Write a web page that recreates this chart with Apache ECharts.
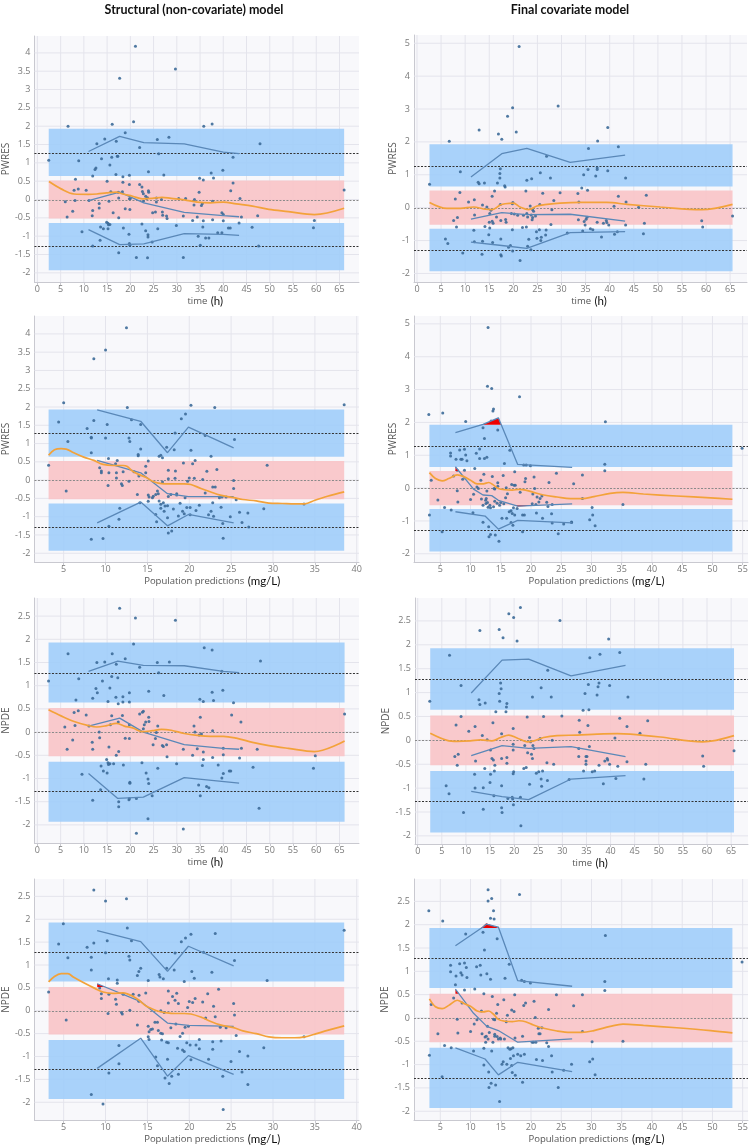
<!DOCTYPE html>
<html><head><meta charset="utf-8">
<script src="https://cdn.jsdelivr.net/npm/echarts@6/dist/echarts.min.js"></script>
<style>html,body{margin:0;padding:0;background:#fff}#c{width:754px;height:1146px}</style>
</head><body><div id="c"></div>
<script>
// ---------- shared values ----------
const bandUpper = [0.64, 1.93];
const bandMiddle = [-0.52, 0.52];
const bandLower = [-1.93, -0.64];
const refDark = [1.28, -1.28];
const refZero = [0];

const timeTicks = [0,5,10,15,20,25,30,35,40,45,50,55,60,65];
const predTicksS = [5,10,15,20,25,30,35,40];
const predTicksF = [5,10,15,20,25,30,35,40,45,50,55];
const pwresTicksS = [-2,-1.5,-1,-0.5,0,0.5,1,1.5,2,2.5,3,3.5,4];
const pwresTicksF = [-2,-1,0,1,2,3,4,5];
const npdeTicks = [-2,-1.5,-1,-0.5,0,0.5,1,1.5,2,2.5];

const titles = ['Structural (non-covariate) model', 'Final covariate model'];

// ---------- Panel 1: PWRES vs time, structural ----------
const p1Pts = [[2.44,1.07],[6.6,2.0],[8.9,1.06],[8.2,0.55],[7.9,0.25],[8.1,-0.03],[6.0,-0.06],[6.4,-0.48],[7.6,-0.32],[8.8,0.29],[10.5,0.25],[9.6,-0.88],[11.9,0.64],[12.4,0.82],[12.8,1.52],[12.6,0.86],[11.1,-0.03],[11.9,-0.3],[11.8,-0.44],[11.9,-1.27],[13.3,-0.11],[13.3,-0.23],[13.8,1.11],[14.5,1.65],[13.5,-1.11],[13.6,-0.75],[14.2,-0.8],[14.9,-0.62],[15.2,-0.65],[15.2,-0.8],[15.3,-0.69],[15.6,-0.68],[15.0,0.5],[15.4,-0.05],[15.6,0.94],[16.0,1.15],[16.1,2.05],[15.8,0.21],[16.3,-0.36],[16.9,0.68],[16.97,1.59],[17.2,1.18],[17.3,1.18],[17.4,0.2],[17.5,0.04],[17.5,-0.5],[17.5,-1.45],[17.7,3.31],[18.3,0.21],[18.4,0.62],[18.4,0.47],[18.5,-0.78],[18.9,1.82],[18.9,-0.25],[19.8,0.66],[19.8,0.41],[19.8,0.02],[19.9,-0.27],[19.7,-0.95],[19.8,-1.2],[19.9,-1.25],[20.0,0.03],[20.7,2.12],[21.1,4.18],[21.3,-1.58],[22.0,1.42],[22.0,0.41],[22.5,0.34],[22.6,0.22],[22.5,-0.67],[22.8,0.16],[22.8,-0.05],[23.3,-0.85],[23.3,0.09],[23.5,0.03],[23.7,0.05],[23.8,-0.96],[23.9,0.24],[23.95,0.2],[23.8,-1.02],[23.7,-1.59],[23.9,0.76],[24.7,-1.16],[24.8,-0.36],[25.4,-0.34],[25.6,-0.07],[25.6,0.04],[25.8,1.64],[26.1,1.25],[25.9,-0.8],[26.7,0.0],[26.9,-0.34],[26.96,-0.43],[27.2,0.67],[27.8,-0.45],[27.9,-0.52],[28.3,1.7],[29.7,3.56],[29.9,-0.71],[30.4,0.03],[31.4,-0.45],[31.4,-1.58],[31.9,0.03],[33.4,-0.57],[33.8,0.0],[33.7,-0.15],[34.4,-0.48],[34.6,-1.0],[34.8,0.2],[34.9,0.58],[35.05,-1.25],[35.3,-0.16],[35.5,-0.11],[35.6,-0.75],[35.7,0.53],[35.8,2.0],[35.7,-0.58],[36.2,-1.05],[36.9,-1.05],[37.4,0.72],[37.6,2.06],[37.7,-0.05],[37.7,-0.55],[37.9,0.59],[38.8,-0.91],[39.7,-0.36],[39.7,-0.91],[39.9,0.8],[40.0,-0.58],[40.0,-0.41],[41.1,-0.78],[41.5,-0.78],[41.6,0.24],[42.1,0.45],[42.1,1.15],[43.4,-0.64],[43.6,0.03],[43.9,-0.48],[46.2,-0.76],[47.4,-0.44],[47.6,-1.27],[47.9,1.52],[59.4,-0.77],[59.6,-0.57],[66.0,0.26]];
const p1Up = [[11,1.31],[17.7,1.72],[22.9,1.55],[31.6,1.52],[40,1.29],[43.4,1.25]];
const p1Med = [[11,-0.03],[17.7,0.2],[22.9,-0.09],[31.6,-0.35],[40,-0.44],[43.4,-0.47]];
const p1Lo = [[11,-0.82],[17.7,-1.23],[22.9,-1.21],[31.6,-0.93],[40,-0.95],[43.4,-0.98]];
const p1Trend = [[2.5,0.49],[5.1,0.29],[7.9,0.15],[11,0.14],[12.8,0.15],[14.9,0.18],[17,0.2],[18.4,0.15],[20.5,0.09],[22.6,0.02],[24.7,0.03],[26.8,0.06],[28.8,0.03],[31.6,-0.01],[34.4,-0.07],[37.2,-0.09],[40,-0.07],[42.8,-0.12],[46.3,-0.18],[49.8,-0.27],[54,-0.33],[59.6,-0.41],[66,-0.24]];
const p1BandX = [2.44, 66];
const p1Red = [];

// ---------- Panel 2: PWRES vs time, final ----------
const p2Pts = [[2.6,0.71],[6.7,2.02],[5.9,-0.95],[6.4,-1.09],[7.95,0.26],[7.6,-0.39],[8.2,-0.59],[8.4,-0.3],[8.9,0.46],[9.0,1.09],[9.5,-1.38],[10.7,0.17],[11.9,0.24],[11.8,-0.69],[11.9,-1.04],[11.95,-0.22],[12.7,0.77],[12.9,0.73],[12.9,2.36],[13.6,0.08],[13.6,-1.02],[13.5,-1.42],[14.0,0.75],[14.1,-0.57],[14.5,0.02],[14.9,-0.82],[15.0,-0.44],[15.1,-0.18],[15.1,-0.62],[15.35,-0.08],[15.6,0.35],[15.6,-0.41],[15.7,-1.06],[15.8,-0.47],[16.1,0.51],[16.5,-0.28],[16.7,0.75],[16.9,2.24],[17.2,0.9],[17.2,1.04],[17.3,1.18],[17.3,0.1],[17.4,-0.39],[17.4,-0.95],[17.4,-1.43],[17.5,-1.47],[17.6,2.08],[18.2,0.67],[18.3,0.63],[18.4,-0.36],[18.5,-0.44],[18.8,2.78],[19.0,-1.2],[19.4,-1.15],[19.6,-0.18],[19.8,-0.67],[19.8,0.12],[19.85,-1.32],[19.85,3.04],[19.9,0.16],[20.2,-0.19],[20.6,2.3],[20.9,-0.23],[21.2,4.9],[21.4,-1.61],[21.9,-0.6],[22.1,-0.23],[22.6,0.51],[22.8,0.83],[22.7,-0.59],[22.8,-0.18],[22.96,-0.28],[22.96,-1.17],[23.2,-0.96],[23.5,0.05],[23.65,-1.28],[23.7,-0.22],[23.8,0.88],[23.9,-0.37],[24.0,-0.06],[24.0,-0.3],[24.2,-0.11],[24.6,-0.25],[24.8,-0.73],[24.9,-0.93],[25.4,-0.67],[25.5,0.1],[25.7,-1.0],[25.6,1.06],[25.8,-0.9],[26.1,0.44],[26.8,-0.68],[26.9,1.56],[26.7,-0.83],[27.7,0.9],[27.8,-0.51],[28.0,-0.06],[28.4,0.22],[29.3,3.09],[29.7,0.45],[31.2,-0.77],[33.4,0.43],[33.6,0.17],[33.5,-0.37],[34.2,0.6],[34.4,-0.71],[34.6,1.0],[34.7,-0.42],[34.9,-0.53],[35.1,-0.35],[35.3,-0.29],[35.4,0.53],[35.5,1.16],[35.6,1.8],[36.0,-0.64],[36.5,-0.67],[37.1,0.96],[37.4,1.16],[37.4,1.21],[37.4,-0.44],[37.5,2.03],[38.3,-0.89],[38.7,-0.47],[39.3,-0.39],[39.4,-0.45],[39.6,2.44],[39.6,1.12],[39.8,-0.53],[40.9,0.04],[41.0,-0.81],[41.6,-0.73],[41.8,0.35],[41.8,1.85],[43.3,0.9],[43.4,0.17],[43.3,-0.53],[46.0,0.01],[47.0,-0.79],[47.2,-0.47],[47.6,0.38],[59.1,-0.4],[59.3,-0.59],[65.5,-0.25]];
const p2Up = [[11.2,0.93],[17.6,1.64],[22.8,1.8],[31.8,1.38],[43.2,1.6]];
const p2Med = [[11.2,-0.35],[17.6,-0.15],[22.8,-0.21],[31.8,-0.2],[43.2,-0.41]];
const p2Lo = [[11.2,-1.05],[17.6,-1.15],[22.8,-1.24],[31.8,-0.76],[43.2,-0.73]];
const p2Trend = [[2.6,0.16],[6.2,-0.02],[9,-0.02],[11.8,0.02],[13.8,-0.04],[15.6,-0.06],[17.3,0.08],[18.3,0.12],[20,0.14],[21.4,0.02],[23.2,-0.06],[24.9,0.05],[27,0.1],[29.7,0.14],[33.9,0.16],[39.4,0.16],[43.6,0.1],[50.5,0.02],[59.1,-0.06],[65.5,0.1]];
const p2BandX = [2.6, 65.5];
const p2Red = [];

// ---------- Panel 3: PWRES vs PRED, structural ----------
const p3Pts = [[3.2,0.41],[4.4,1.59],[5.0,2.12],[5.5,1.06],[5.3,-0.3],[7.8,1.41],[8.3,1.17],[8.3,1.15],[8.3,0.75],[8.3,-1.62],[8.6,1.63],[8.6,3.32],[9.7,-1.6],[9.3,0.34],[9.5,0.2],[9.5,0.25],[10.0,1.15],[10.0,3.56],[10.2,1.52],[10.3,-0.15],[10.35,0.59],[10.4,0.2],[10.4,-1.26],[11.6,-1.07],[11.7,-0.77],[11.2,0.45],[11.3,0.2],[11.3,0.06],[11.4,0.54],[11.9,-0.1],[12.0,-0.15],[12.1,0.23],[12.6,1.99],[12.5,4.17],[12.8,1.15],[12.9,1.06],[12.8,-0.03],[13.1,1.65],[13.4,0.23],[13.8,-0.39],[13.9,0.67],[13.9,0.7],[13.98,0.11],[14.1,-0.62],[14.2,1.52],[14.2,0.85],[14.8,0.38],[14.8,0.2],[15.1,0.52],[15.1,-0.41],[15.1,-0.58],[15.2,-0.46],[15.6,-0.48],[15.7,-0.44],[16.0,-0.39],[16.0,-0.94],[16.2,-0.3],[16.1,-1.14],[16.3,-0.37],[16.4,0.65],[16.6,0.68],[16.4,-0.57],[16.6,-0.66],[16.6,-0.77],[16.8,-0.05],[16.8,0.61],[16.9,-0.62],[17.0,-0.85],[17.1,-0.71],[17.3,0.9],[17.4,-1.03],[17.4,-0.7],[17.5,-0.45],[17.5,0.04],[17.5,-1.45],[17.5,0.27],[17.8,-0.39],[17.9,-1.39],[18.1,-0.79],[18.2,0.83],[18.3,1.29],[18.3,0.05],[18.35,0.25],[18.5,-0.37],[18.5,-0.41],[18.7,-0.98],[18.9,-0.63],[19.05,1.68],[19.2,-0.85],[19.3,0.47],[19.4,-0.92],[19.5,-0.48],[19.55,1.81],[19.7,-0.75],[19.8,-0.03],[20.0,0.06],[20.1,-0.95],[20.2,0.82],[20.2,2.05],[20.1,-0.75],[20.4,0.45],[20.6,0.05],[20.7,0.54],[20.8,-0.83],[21.2,-0.69],[21.6,0.02],[21.9,1.22],[21.9,-0.35],[22.1,0.24],[22.3,-0.95],[22.6,0.65],[22.6,-0.85],[22.8,-0.62],[22.8,-0.19],[22.9,-0.99],[23.04,1.99],[23.1,-0.19],[23.3,0.29],[23.6,-0.48],[23.8,-0.74],[23.9,-0.46],[24.0,-1.19],[24.05,-1.59],[24.4,-0.46],[24.9,-1.0],[25.3,-0.01],[25.3,-0.23],[25.4,1.11],[25.6,-0.54],[26.0,-0.88],[26.3,-1.16],[27.0,-0.9],[27.1,-1.28],[28.9,-0.78],[29.3,0.41],[33.7,-0.65],[38.5,2.06]];
const p3Up = [[9.0,1.92],[14.2,1.61],[17.4,0.75],[19.9,1.45],[25.3,0.88]];
const p3Med = [[9.0,0.54],[14.2,0.2],[17.4,-0.37],[19.9,-0.45],[25.3,-0.45]];
const p3Lo = [[9.0,-1.17],[14.2,-0.6],[17.4,-1.25],[19.9,-0.94],[25.3,-1.17]];
const p3Trend = [[3.2,0.68],[3.9,0.83],[4.7,0.86],[5.3,0.85],[6.2,0.75],[7.4,0.63],[8.6,0.54],[9.7,0.43],[10.9,0.4],[12.1,0.4],[12.6,0.37],[13.2,0.25],[14.0,0.15],[14.8,0.08],[15.6,-0.03],[16.3,-0.08],[17.1,-0.1],[18.3,-0.1],[19.4,-0.1],[20.2,-0.12],[21.4,-0.23],[22.5,-0.32],[23.7,-0.41],[25.3,-0.48],[26.4,-0.53],[28.0,-0.57],[29.5,-0.63],[31.1,-0.64],[32.6,-0.65],[33.8,-0.65],[35.0,-0.55],[36.5,-0.44],[38.5,-0.32]];
const p3BandX = [3.2, 38.5];
const p3Red = [];

// ---------- Panel 4: PWRES vs PRED, final ----------
const p4Pts = [[3.1,2.24],[3.2,-0.82],[3.5,0.24],[4.6,-0.36],[5.4,2.29],[5.3,-1.33],[5.7,-0.59],[6.7,0.98],[6.7,1.07],[6.8,-0.67],[7.2,0.37],[7.6,0.88],[7.8,0.54],[7.8,-0.08],[7.9,-0.42],[8.2,1.16],[8.4,0.88],[8.6,0.88],[8.7,0.27],[9.0,1.18],[9.0,0.54],[9.2,2.03],[9.2,1.01],[9.4,0.83],[10.0,-0.35],[10.4,-0.75],[10.5,-0.19],[10.7,0.6],[10.95,1.06],[11.06,0.03],[11.3,-0.01],[11.5,1.19],[11.5,0.9],[11.7,0.24],[11.8,-0.33],[12.06,1.84],[12.06,-0.52],[12.06,-1.04],[12.2,0.42],[12.3,1.51],[12.3,0.9],[12.5,-0.37],[12.55,-0.47],[12.6,-0.32],[12.7,-0.09],[12.7,0.94],[12.8,-0.44],[12.8,3.1],[12.9,-0.58],[12.9,4.89],[13.0,-1.18],[13.05,-1.48],[13.2,-0.52],[13.3,-0.6],[13.3,-1.41],[13.4,2.04],[13.5,3.03],[13.6,0.35],[13.7,2.35],[13.8,2.41],[13.8,-0.57],[13.9,-0.01],[14.0,-0.03],[14.0,-0.4],[14.1,-1.43],[14.4,-0.46],[14.5,1.77],[14.5,0.16],[14.5,0.06],[14.7,-1.62],[14.8,-0.52],[15.0,-0.44],[15.2,-0.92],[15.4,0.38],[15.5,-0.48],[15.6,0.75],[15.8,-0.29],[15.9,0.01],[15.97,-0.92],[16.1,-0.17],[16.4,-0.72],[16.5,1.15],[16.7,-0.69],[16.7,-1.05],[16.8,0.11],[16.9,-0.77],[17.0,-1.13],[17.1,-0.6],[17.2,0.09],[17.3,0.5],[17.3,-0.82],[17.4,0.09],[17.7,-0.62],[18.1,2.78],[18.2,-0.13],[18.6,-0.82],[18.6,-1.33],[18.8,0.7],[18.9,-0.82],[19.0,0.19],[19.1,0.29],[19.2,0.7],[19.9,0.68],[20.2,-0.48],[20.3,-0.18],[20.5,0.34],[20.6,-0.01],[20.8,-0.5],[20.9,-0.76],[21.0,-0.27],[21.3,-0.42],[21.5,-0.32],[21.8,-0.24],[21.9,-0.92],[22.6,-0.43],[22.8,-0.56],[22.97,0.17],[23.4,-0.78],[23.5,-1.06],[23.5,-0.5],[24.2,0.45],[24.5,-1.39],[25.4,-1.09],[26.7,-1.03],[26.7,-1.05],[27.05,0.13],[28.5,0.4],[28.5,-0.32],[29.7,-0.96],[30.1,-0.59],[30.2,-0.82],[30.6,-1.15],[32.2,0.73],[32.2,0.53],[32.3,2.02],[35.2,-0.5],[54.9,1.21]];
const p4Up = [[7.5,1.69],[12.06,1.94],[14.6,2.14],[17.8,0.72],[26.8,0.63]];
const p4Med = [[7.5,0.65],[10.5,-0.03],[12.06,-0.21],[13.5,-0.23],[14.6,-0.37],[17.8,-0.55],[26.8,-0.48]];
const p4Lo = [[7.5,-0.72],[12.4,-0.85],[14.6,-1.25],[17.8,-0.98],[26.8,-1.06]];
const p4Trend = [[3.2,0.47],[4.2,0.29],[5.3,0.22],[6.4,0.29],[7.8,0.4],[8.9,0.35],[10.0,0.24],[11.1,0.13],[12.1,0.13],[13.0,0.17],[13.8,0.09],[14.6,-0.01],[15.7,-0.05],[16.9,-0.06],[18.0,-0.04],[19.1,-0.06],[20.4,-0.13],[22.1,-0.21],[24.3,-0.27],[26.5,-0.32],[28.4,-0.32],[30.4,-0.26],[33.1,-0.16],[35.2,-0.13],[38.6,-0.18],[44.1,-0.24],[49.7,-0.3],[53.3,-0.34]];
const p4BandX = [3.2, 53.3];
const p4Red = [[12.0,1.93,14.6,2.14,15.07,1.93],[7.5,0.65,8.07,0.52,7.5,0.52],[17.27,-0.52,17.8,-0.56,21.66,-0.52]];

// ---------- Panel 5: NPDE vs time, structural ----------
const p5Pts = [[2.4,1.1],[6.6,1.69],[5.9,0.11],[6.4,-0.37],[7.6,-0.17],[7.9,0.42],[8.1,0.14],[8.3,0.69],[8.8,0.46],[8.9,1.15],[9.6,-0.91],[10.5,0.37],[11.1,0.13],[11.8,-0.22],[11.9,-0.37],[11.9,0.73],[11.9,-1.47],[12.8,1.5],[12.6,0.94],[12.9,0.85],[13.3,0.0],[13.4,-0.12],[13.6,-1.24],[13.7,-0.73],[14.0,1.1],[14.2,-0.84],[14.5,1.51],[14.9,-0.59],[15.0,-0.88],[15.2,0.66],[15.2,-0.66],[15.3,-0.7],[15.6,-0.68],[15.4,-0.32],[15.6,0.95],[15.7,0.16],[15.99,1.2],[16.1,1.69],[15.99,0.35],[16.4,-0.68],[16.9,0.75],[16.97,-0.5],[16.97,1.46],[17.3,1.17],[17.4,0.61],[17.4,0.22],[17.5,-1.5],[17.5,-0.42],[17.7,2.67],[17.5,-1.61],[18.3,0.36],[18.4,0.76],[18.4,0.65],[18.5,-0.71],[18.9,1.58],[18.9,-0.13],[19.8,0.85],[19.8,0.65],[19.8,-0.14],[19.8,0.16],[19.9,-1.08],[19.9,-1.1],[19.7,-1.46],[19.8,-1.43],[20.7,1.9],[21.1,2.46],[21.3,-1.43],[21.3,-2.18],[22.0,1.4],[22.0,0.39],[22.5,-0.66],[22.6,0.43],[22.8,0.45],[22.8,0.07],[23.0,0.16],[23.3,0.22],[23.4,-0.88],[23.8,-1.87],[23.8,-1.01],[23.95,0.88],[23.95,0.32],[24.0,0.23],[23.95,-1.11],[24.7,-1.37],[24.9,-0.27],[25.4,-0.14],[25.6,-0.01],[25.8,1.5],[25.9,0.13],[25.9,-0.78],[26.1,1.28],[26.9,-0.29],[27.1,-0.31],[27.2,0.79],[27.8,-0.27],[27.9,-0.53],[28.4,1.51],[29.7,2.41],[29.96,-0.68],[31.4,-0.37],[31.4,-2.09],[33.4,-0.5],[33.7,0.13],[33.9,0.0],[34.4,-0.36],[34.7,-1.14],[34.8,-0.06],[34.96,0.71],[35.05,0.32],[35.05,-1.37],[35.3,-0.04],[35.5,-0.72],[35.7,-0.43],[35.7,-0.59],[35.7,0.66],[35.9,1.82],[36.4,-1.17],[36.9,-1.2],[37.6,0.86],[37.6,1.77],[37.7,0.03],[37.7,-0.55],[37.9,0.68],[38.9,-0.71],[39.7,1.31],[39.7,-0.99],[39.9,0.9],[40.0,-0.49],[40.0,-0.35],[40.0,-0.89],[41.3,-0.84],[41.6,-0.84],[41.8,0.37],[42.2,0.63],[43.5,-0.56],[43.8,0.22],[43.9,-0.35],[46.4,-0.76],[47.3,-0.37],[47.7,-1.64],[48.0,1.53],[59.4,-0.78],[59.8,-0.51],[66.1,0.39]];
const p5Up = [[11,1.31],[17.3,1.53],[22.8,1.44],[31.6,1.43],[40,1.31],[43.4,1.28]];
const p5Med = [[11,0.13],[17.7,0.3],[22.8,0.0],[31.6,-0.27],[40,-0.35],[43.4,-0.37]];
const p5Lo = [[11,-0.89],[17.3,-1.43],[22.8,-1.4],[31.6,-0.98],[43.4,-1.1]];
const p5Trend = [[2.4,0.48],[5.1,0.35],[7.9,0.23],[11,0.14],[12.8,0.11],[14.9,0.14],[17,0.19],[18.7,0.13],[20.5,0.09],[22.6,0.01],[24.7,0.03],[26.7,0.06],[28.8,0.04],[31.6,-0.03],[34.4,-0.07],[37.2,-0.09],[40,-0.09],[42.8,-0.13],[46.3,-0.22],[49.8,-0.29],[54,-0.35],[59.6,-0.42],[66.1,-0.19]];
const p5BandX = [2.4, 66.1];
const p5Red = [];

// ---------- Panel 6: NPDE vs time, final ----------
const p6Pts = [[2.5,0.82],[6.6,1.78],[5.9,-0.95],[6.5,-1.12],[7.95,0.32],[7.7,-0.34],[8.2,-0.52],[8.4,-0.29],[8.99,0.5],[8.99,1.15],[9.5,-1.51],[10.6,0.19],[11.9,0.29],[11.8,-0.71],[11.9,-1.0],[12.0,-0.43],[12.7,0.85],[12.9,0.75],[12.9,2.3],[13.4,0.1],[13.6,-0.99],[13.6,-1.44],[14.0,0.78],[13.9,-0.59],[14.4,0.01],[15.0,-0.88],[15.1,-0.71],[15.1,-0.2],[15.4,-0.38],[15.6,0.37],[15.7,-0.41],[15.9,-0.64],[16.0,-0.52],[15.8,-1.16],[16.2,0.6],[16.9,0.98],[16.9,2.32],[17.0,0.82],[17.2,1.2],[17.3,1.08],[17.4,0.14],[17.4,-0.38],[17.4,-0.95],[17.4,-1.41],[17.5,-1.51],[17.7,2.15],[18.3,0.6],[18.4,0.7],[18.5,0.77],[18.5,-0.36],[18.5,-0.48],[18.7,-1.22],[18.9,2.65],[19.6,-1.19],[19.7,-1.23],[19.8,0.25],[19.8,-0.2],[19.8,-0.08],[19.8,-0.7],[19.85,-1.35],[19.9,2.57],[19.9,-0.66],[20.6,2.08],[21.3,2.78],[21.3,-1.19],[21.4,-1.79],[22.0,-0.59],[22.2,-0.11],[22.5,-0.57],[22.7,0.49],[22.8,-0.26],[23.2,0.06],[23.2,-0.92],[23.4,-0.03],[23.6,-0.29],[23.8,0.91],[23.8,-0.38],[23.9,-0.11],[24.1,-0.17],[24.6,-0.69],[25.1,-0.66],[25.4,0.04],[25.6,1.1],[25.6,-0.81],[25.7,-0.96],[25.9,-0.64],[26.1,0.5],[26.8,-0.47],[26.97,1.47],[26.9,-0.84],[27.7,0.91],[27.9,0.0],[28.2,-0.5],[29.5,2.51],[29.9,0.51],[31.4,-0.82],[33.4,-0.34],[33.5,0.42],[33.6,0.17],[33.4,-0.17],[34.3,0.63],[34.4,-0.64],[34.7,0.98],[34.9,-0.34],[34.9,-0.43],[34.9,-0.5],[35.1,-0.34],[35.3,0.31],[35.4,1.17],[35.5,0.64],[35.6,-0.13],[35.7,1.73],[36.2,-0.66],[36.7,-0.64],[37.2,0.95],[37.4,1.12],[37.6,1.2],[37.6,-0.52],[37.8,1.8],[38.5,-0.91],[38.8,-0.43],[39.3,-0.38],[39.4,-0.41],[39.6,2.12],[39.8,1.15],[39.8,-0.5],[40.9,0.05],[41.1,-0.8],[41.5,-0.54],[41.9,0.46],[41.9,1.84],[43.4,0.29],[43.6,0.91],[43.4,-0.45],[46.1,0.15],[46.9,-0.81],[47.3,-0.5],[47.7,0.41],[59.1,-0.33],[59.3,-0.54],[65.6,-0.22]];
const p6Up = [[11.1,0.99],[17.5,1.68],[23.0,1.7],[31.8,1.35],[43.1,1.57]];
const p6Med = [[11.1,-0.32],[17.5,-0.11],[23.0,-0.17],[31.8,-0.13],[43.1,-0.34]];
const p6Lo = [[11.1,-1.07],[17.5,-1.18],[23.0,-1.24],[31.8,-0.81],[43.1,-0.74]];
const p6Trend = [[2.6,0.15],[6.1,0.0],[8.2,-0.02],[10.9,-0.01],[13.0,0.01],[15.4,-0.01],[17.2,0.06],[18.9,0.11],[20.6,0.05],[22.7,-0.03],[24.1,-0.01],[26.1,0.06],[28.9,0.1],[33.1,0.11],[37.2,0.13],[41.4,0.14],[44.1,0.13],[50.3,0.07],[59.1,-0.03],[65.6,0.1]];
const p6BandX = [2.6, 65.6];
const p6Red = [];

// ---------- Panel 7: NPDE vs PRED, structural ----------
const p7Pts = [[3.2,0.41],[4.4,1.46],[4.96,1.9],[5.3,-0.2],[5.5,1.16],[7.8,1.39],[8.3,1.17],[8.3,0.89],[8.3,-1.83],[8.6,1.48],[8.6,2.64],[9.7,-2.04],[9.3,0.5],[9.5,0.37],[9.5,0.27],[10.0,1.27],[10.0,2.4],[10.2,1.53],[10.3,-0.06],[10.35,0.7],[10.4,0.36],[10.4,-1.36],[11.6,-1.16],[11.6,-0.76],[11.2,0.25],[11.3,0.14],[11.4,0.67],[11.4,0.6],[11.9,-0.04],[12.0,-0.07],[12.1,0.36],[12.5,2.45],[12.6,1.81],[12.8,1.19],[12.9,1.11],[12.9,0.01],[13.1,1.53],[13.3,0.36],[13.8,-0.31],[13.8,0.77],[13.98,0.86],[13.98,0.21],[14.0,0.34],[14.2,0.93],[14.8,0.39],[15.1,0.66],[15.1,-0.34],[15.1,-0.57],[15.2,-0.46],[15.2,-0.63],[15.4,-0.41],[15.6,-0.4],[15.9,-0.25],[16.0,-1.01],[16.2,-0.25],[16.2,-1.2],[16.3,-0.43],[16.4,0.79],[16.5,0.74],[16.6,0.0],[16.6,-0.49],[16.7,-0.64],[16.8,-0.5],[16.9,0.7],[17.0,-0.04],[17.1,-1.47],[17.3,-0.69],[17.3,0.93],[17.4,-1.06],[17.5,-0.7],[17.5,0.17],[17.5,0.43],[17.6,-1.59],[17.8,-0.37],[17.9,-1.43],[18.0,0.31],[18.2,0.89],[18.3,1.26],[18.3,0.23],[18.4,-0.29],[18.5,0.38],[18.6,-0.82],[18.7,-1.39],[18.7,0.16],[18.9,-0.56],[19.05,1.51],[19.2,-0.49],[19.2,-0.86],[19.4,0.64],[19.4,-0.89],[19.55,1.59],[19.5,-0.36],[19.7,-0.7],[19.8,0.07],[19.9,-0.34],[20.0,0.2],[20.1,-0.75],[20.2,1.67],[20.2,-1.07],[20.3,0.86],[20.4,0.18],[20.6,0.71],[20.7,0.27],[20.8,-0.75],[21.2,-0.63],[21.2,-0.83],[21.6,0.19],[21.7,1.28],[21.96,-0.16],[22.2,0.37],[22.3,-1.06],[22.7,0.84],[22.8,-0.68],[22.8,-0.84],[22.9,0.1],[23.1,1.69],[23.1,-0.13],[23.5,0.47],[23.7,-0.36],[23.8,-0.66],[24.0,-1.43],[24.05,-2.16],[24.4,-0.37],[24.98,-1.11],[25.3,0.16],[25.4,-0.09],[25.4,1.1],[25.6,-0.54],[26.0,-0.89],[26.3,-1.34],[27.0,-0.99],[27.0,-1.61],[28.9,-0.81],[29.3,0.66],[33.7,-0.57],[38.5,1.76]];
const p7Up = [[9.0,1.75],[14.2,1.51],[17.4,0.86],[19.9,1.41],[25.3,0.98]];
const p7Med = [[9.0,0.59],[14.2,0.2],[17.4,-0.27],[19.9,-0.32],[25.3,-0.34]];
const p7Lo = [[9.0,-1.26],[14.2,-0.6],[17.4,-1.43],[19.9,-0.98],[25.3,-1.39]];
const p7Trend = [[3.2,0.63],[3.9,0.75],[4.7,0.81],[5.5,0.81],[6.2,0.73],[7.4,0.61],[8.6,0.5],[9.7,0.41],[10.9,0.38],[12.1,0.39],[12.6,0.37],[13.2,0.32],[14.0,0.23],[14.8,0.11],[15.6,0.04],[16.3,-0.01],[17.1,-0.04],[18.3,-0.06],[19.4,-0.06],[20.2,-0.07],[21.4,-0.14],[22.5,-0.23],[23.7,-0.31],[25.3,-0.37],[26.4,-0.44],[28.0,-0.5],[29.5,-0.57],[31.1,-0.59],[32.6,-0.59],[33.8,-0.57],[35.0,-0.51],[36.5,-0.43],[38.5,-0.33]];
const p7BandX = [3.2, 38.5];
const p7Red = [[9.0,0.59,9.93,0.52,9.0,0.52]];

// ---------- Panel 8: NPDE vs PRED, final ----------
const p8Pts = [[3.1,2.3],[3.2,-0.8],[3.5,0.29],[4.6,-0.34],[5.4,2.08],[5.3,-1.26],[5.7,-0.59],[6.7,1.13],[6.7,0.99],[6.8,-0.64],[7.2,0.43],[7.5,0.71],[7.6,0.9],[7.8,-0.03],[7.9,-0.32],[8.2,1.16],[8.4,0.97],[8.6,0.92],[8.6,0.32],[9.0,1.18],[9.0,0.6],[9.2,1.8],[9.3,1.08],[9.4,0.87],[10.0,-0.29],[10.5,-0.71],[10.6,-0.13],[10.7,0.62],[11.0,1.1],[11.06,-0.04],[11.6,1.13],[11.7,0.92],[11.8,0.15],[11.9,-0.34],[12.06,1.84],[12.2,0.52],[12.2,-0.65],[12.2,-1.01],[12.3,1.46],[12.4,-0.41],[12.5,-0.52],[12.6,-0.39],[12.7,0.95],[12.8,-0.18],[12.9,2.51],[12.9,2.75],[12.9,-0.45],[13.0,-1.16],[13.05,-1.49],[13.1,-0.31],[13.3,2.14],[13.3,0.83],[13.4,-1.4],[13.5,-0.71],[13.5,2.56],[13.6,0.46],[13.7,-0.52],[13.8,2.3],[13.8,-0.03],[13.9,2.12],[14.0,-0.35],[14.0,-0.04],[14.0,-0.39],[14.15,-1.44],[14.3,0.1],[14.4,-0.4],[14.4,1.7],[14.5,0.29],[14.6,-0.45],[14.8,-1.79],[14.9,-0.43],[15.0,-0.45],[15.2,-0.99],[15.4,-0.94],[15.5,0.39],[15.6,-0.45],[15.7,0.85],[15.9,-0.08],[16.0,-0.99],[16.1,0.06],[16.2,-0.64],[16.4,1.15],[16.5,-0.67],[16.6,-0.87],[16.7,-0.66],[16.8,0.17],[16.8,-1.02],[16.9,-1.17],[17.0,-0.64],[17.1,-0.81],[17.2,0.14],[17.3,0.5],[17.35,-0.43],[17.4,-1.23],[17.8,-0.78],[18.1,2.65],[18.3,-0.81],[18.45,0.81],[18.6,-1.38],[18.6,-0.39],[18.8,0.27],[18.9,0.78],[18.9,-0.78],[19.1,0.32],[19.9,0.75],[20.2,-0.52],[20.4,-0.52],[20.5,0.36],[20.7,0.01],[20.8,-0.52],[20.9,-0.89],[21.2,-0.22],[21.3,-0.34],[21.5,-0.34],[21.8,-0.21],[21.9,-0.91],[22.6,-0.53],[22.9,0.18],[22.9,-0.61],[23.4,-0.81],[23.5,-1.16],[24.2,0.5],[24.5,-1.49],[25.4,-1.12],[26.7,-0.99],[27.05,0.26],[28.5,0.5],[28.5,-0.29],[29.7,-0.94],[30.1,-0.51],[30.2,-0.88],[30.6,-1.22],[32.2,0.78],[32.2,0.59],[32.3,1.77],[35.2,-0.5],[54.9,1.2]];
const p8Up = [[7.5,1.55],[12.06,1.95],[12.6,2.01],[14.6,1.95],[17.8,0.8],[26.8,0.68]];
const p8Med = [[7.5,0.62],[10.5,0.1],[12.7,-0.18],[14.6,-0.27],[17.8,-0.52],[26.8,-0.45]];
const p8Lo = [[7.5,-0.64],[12.4,-0.88],[14.6,-1.22],[17.8,-0.95],[26.8,-1.15]];
const p8Trend = [[3.2,0.41],[4.2,0.24],[5.3,0.2],[6.4,0.27],[7.8,0.38],[8.9,0.31],[10.0,0.25],[11.1,0.15],[12.1,0.13],[13.0,0.15],[13.8,0.08],[14.6,-0.03],[15.7,-0.07],[16.9,-0.08],[18.0,-0.06],[19.1,-0.08],[20.4,-0.15],[22.1,-0.22],[24.3,-0.28],[26.5,-0.31],[28.4,-0.31],[30.4,-0.27],[33.1,-0.18],[35.2,-0.13],[38.6,-0.16],[44.1,-0.21],[49.7,-0.27],[53.3,-0.32]];
const p8BandX = [3.2, 53.3];
const p8Red = [[11.75,1.93,12.6,2.03,14.7,1.93],[7.5,0.62,8.08,0.52,7.5,0.52]];

// ---------- panel layout / styling ----------
const C = {
  bg:'#f8f8fb', grid:'#e4e4ec', axis:'#c9c9d0', label:'#7a7a7a',
  blue:'rgba(160,205,250,0.9)', pink:'rgba(249,196,200,0.92)',
  pt:'#3c6a98', pi:'#5a88b8', trend:'#f3a23a', red:'#ee0000'
};
const TIME = {g:'time', k:'(h)', pad:17};
const PRED = {g:'Population predictions', k:'(mg/L)', pad:31};

const panels = [
  {rect:[26,36,333,246], x:[-0.63,69.2], y:[-2.25,4.46], xt:timeTicks, yt:pwresTicksS, xn:TIME, yn:'PWRES', pts:p1Pts, up:p1Up, med:p1Med, lo:p1Lo, tr:p1Trend, bx:p1BandX, red:p1Red},
  {rect:[414,35,333,247], x:[-0.62,68.5], y:[-2.26,5.25], xt:timeTicks, yt:pwresTicksF, xn:TIME, yn:'PWRES', pts:p2Pts, up:p2Up, med:p2Med, lo:p2Lo, tr:p2Trend, bx:p2BandX, red:p2Red},
  {rect:[26,316,333,246], x:[1.51,40.27], y:[-2.24,4.49], xt:predTicksS, yt:pwresTicksS, xn:PRED, yn:'PWRES', pts:p3Pts, up:p3Up, med:p3Med, lo:p3Lo, tr:p3Trend, bx:p3BandX, red:p3Red},
  {rect:[414,316,334,246], x:[0.65,55.88], y:[-2.25,5.24], xt:predTicksF, yt:pwresTicksF, xn:PRED, yn:'PWRES', pts:p4Pts, up:p4Up, med:p4Med, lo:p4Lo, tr:p4Trend, bx:p4BandX, red:p4Red},
  {rect:[26,598,333,245], x:[-0.63,69.2], y:[-2.39,2.89], xt:timeTicks, yt:npdeTicks, xn:TIME, yn:'NPDE', pts:p5Pts, up:p5Up, med:p5Med, lo:p5Lo, tr:p5Trend, bx:p5BandX, red:p5Red},
  {rect:[415,598,333,246], x:[-0.56,68.5], y:[-2.17,2.98], xt:timeTicks, yt:npdeTicks, xn:TIME, yn:'NPDE', pts:p6Pts, up:p6Up, med:p6Med, lo:p6Lo, tr:p6Trend, bx:p6BandX, red:p6Red},
  {rect:[26,879,333,246], x:[1.51,40.27], y:[-2.39,2.88], xt:predTicksS, yt:npdeTicks, xn:PRED, yn:'NPDE', pts:p7Pts, up:p7Up, med:p7Med, lo:p7Lo, tr:p7Trend, bx:p7BandX, red:p7Red},
  {rect:[414,879,334,246], x:[0.65,55.88], y:[-2.19,2.98], xt:predTicksF, yt:npdeTicks, xn:PRED, yn:'NPDE', pts:p8Pts, up:p8Up, med:p8Med, lo:p8Lo, tr:p8Trend, bx:p8BandX, red:p8Red}
];

const grids = [], xAxes = [], yAxes = [], series = [];

panels.forEach((p, i) => {
  grids.push({left:p.rect[0], top:p.rect[1], width:p.rect[2], height:p.rect[3], show:true, backgroundColor:C.bg, borderWidth:0, containLabel:false});
  xAxes.push({
    gridIndex:i, type:'value', min:p.x[0], max:p.x[1],
    axisLine:{show:true, onZero:false, lineStyle:{color:C.axis, width:1}},
    axisTick:{show:true, length:3, customValues:p.xt, lineStyle:{color:C.axis}},
    axisLabel:{customValues:p.xt, fontSize:9, color:C.label, margin:3, fontFamily:'Open Sans'},
    splitLine:{show:false},
    name:'{g|' + p.xn.g + '} {k|' + p.xn.k + '}', nameLocation:'middle', nameGap:8,
    nameTextStyle:{padding:[0,0,0,p.xn.pad], rich:{
      g:{fontSize:9.5, color:'#555', fontFamily:'Open Sans'},
      k:{fontSize:11.5, color:'#111', fontFamily:'Lato'}
    }}
  });
  yAxes.push({
    gridIndex:i, type:'value', min:p.y[0], max:p.y[1],
    axisLine:{show:true, onZero:false, lineStyle:{color:C.axis, width:1}},
    axisTick:{show:false, customValues:p.yt},
    axisLabel:{customValues:p.yt, fontSize:9, color:C.label, margin:4, fontFamily:'Open Sans'},
    splitLine:{show:false},
    name:p.yn, nameLocation:'middle', nameGap:13,
    nameTextStyle:{fontSize:10, color:'#555', fontFamily:'Open Sans'}
  });
  const ax = {xAxisIndex:i, yAxisIndex:i};
  // vertical grid lines
  series.push(Object.assign({type:'custom', z:1, silent:true, clip:false, encode:{x:0, y:1},
    data:p.xt.map(v => [v, p.y[0]]),
    renderItem:(params, api) => {
      const cs = params.coordSys; const x = api.coord([api.value(0), api.value(1)])[0];
      return {type:'line', shape:{x1:x, y1:cs.y, x2:x, y2:cs.y+cs.height}, style:{stroke:C.grid, lineWidth:1}};
    }}, ax));
  // horizontal grid lines
  series.push(Object.assign({type:'custom', z:1, silent:true, clip:false, encode:{x:0, y:1},
    data:p.yt.map(v => [p.x[0], v]),
    renderItem:(params, api) => {
      const cs = params.coordSys; const y = api.coord([api.value(0), api.value(1)])[1];
      return {type:'line', shape:{x1:cs.x, y1:y, x2:cs.x+cs.width, y2:y}, style:{stroke:C.grid, lineWidth:1}};
    }}, ax));
  // prediction bands
  const bandCols = [C.blue, C.pink, C.blue];
  series.push(Object.assign({type:'custom', z:2, silent:true, clip:false, encode:{x:[0,1], y:[2,3]},
    data:[bandUpper, bandMiddle, bandLower].map(b => [p.bx[0], p.bx[1], b[0], b[1]]),
    renderItem:(params, api) => {
      const a = api.coord([api.value(0), api.value(3)]);
      const b = api.coord([api.value(1), api.value(2)]);
      return {type:'rect', shape:{x:a[0], y:a[1], width:b[0]-a[0], height:b[1]-a[1]}, style:{fill:bandCols[params.dataIndex]}};
    }}, ax));
  // reference dashed lines
  const refLine = (vals, color) => Object.assign({type:'custom', z:3, silent:true, clip:false, encode:{x:0, y:1},
    data:vals.map(v => [p.x[0], v]),
    renderItem:(params, api) => {
      const cs = params.coordSys; const y = Math.round(api.coord([api.value(0), api.value(1)])[1]) + 0.5;
      return {type:'line', shape:{x1:cs.x, y1:y, x2:cs.x+cs.width, y2:y}, style:{stroke:color, lineWidth:1.1, lineDash:[2,1.5]}};
    }}, ax);
  series.push(refLine(refDark, '#333'));
  series.push(refLine(refZero, '#8a8a8a'));
  // red out-of-interval areas
  if (p.red.length) {
    series.push(Object.assign({type:'custom', z:5, silent:true, clip:false, encode:{x:[0,2,4], y:[1,3,5]},
      data:p.red,
      renderItem:(params, api) => {
        const pts = [0,2,4].map(k => api.coord([api.value(k), api.value(k+1)]));
        return {type:'polygon', shape:{points:pts}, style:{fill:C.red}};
      }}, ax));
  }
  // points
  series.push(Object.assign({type:'scatter', z:4, symbol:'circle', symbolSize:3, data:p.pts,
    itemStyle:{color:C.pt, opacity:0.9}, silent:true}, ax));
  // percentile lines
  [p.up, p.med, p.lo].forEach(d => series.push(Object.assign({type:'line', z:6, data:d, showSymbol:false, silent:true,
    lineStyle:{color:C.pi, width:1.3}}, ax)));
  // trend
  series.push(Object.assign({type:'line', z:7, data:p.tr, showSymbol:false, smooth:0.35, silent:true,
    lineStyle:{color:C.trend, width:1.7}}, ax));
});

const chart = echarts.init(document.getElementById('c'), null, {renderer:'canvas'});
chart.setOption({
  animation:false,
  backgroundColor:'#fff',
  grid:grids, xAxis:xAxes, yAxis:yAxes, series:series,
  graphic:[
    {type:'text', x:194, y:10, style:{text:titles[0], textAlign:'center', textVerticalAlign:'middle', fontSize:12.5, fontWeight:'bold', fontFamily:'Lato', fill:'#111'}},
    {type:'text', x:570, y:10, style:{text:titles[1], textAlign:'center', textVerticalAlign:'middle', fontSize:12.5, fontWeight:'bold', fontFamily:'Lato', fill:'#111'}}
  ]
});
</script>
</body></html>
